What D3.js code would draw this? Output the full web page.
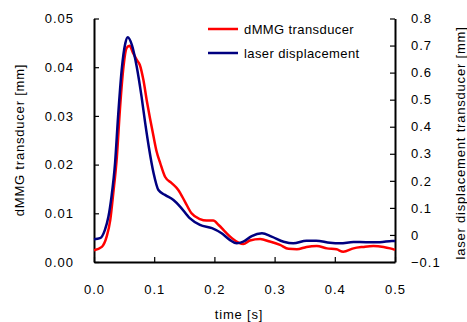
<!DOCTYPE html>
<html>
<head>
<meta charset="utf-8">
<script src="https://d3js.org/d3.v7.min.js"></script>
<style>
  body { margin: 0; background: #fff; }
  svg { display: block; font-family: "Liberation Sans", Arial, sans-serif; }
  .tick text { font-size: 13px; letter-spacing: 1px; fill: #000; }
  .title { font-size: 13px; letter-spacing: 0.8px; }
  .legend text { font-size: 13px; letter-spacing: 0.4px; }
</style>
</head>
<body>
<div id="chart"></div>
<script>
// time axis ticks, left (dMMG) ticks, right (laser) ticks
let timeTicks = [0, 0.1, 0.2, 0.3, 0.4, 0.5];
let leftTicks = [0, 0.01, 0.02, 0.03, 0.04, 0.05];
let rightTicks = [-0.1, 0, 0.1, 0.2, 0.3, 0.4, 0.5, 0.6, 0.7, 0.8];

// dMMG transducer [mm]
let dmmgT = [0.0, 0.013, 0.021, 0.027, 0.032, 0.038, 0.043, 0.049, 0.054, 0.059, 0.065, 0.071, 0.076, 0.082,
  0.088, 0.093, 0.099, 0.104, 0.110, 0.118, 0.129, 0.140, 0.151, 0.162, 0.176, 0.187, 0.198, 0.207,
  0.218, 0.229, 0.240, 0.248, 0.259, 0.276, 0.292, 0.309, 0.323, 0.337, 0.353, 0.370, 0.387, 0.403,
  0.414, 0.431, 0.447, 0.464, 0.481, 0.492, 0.5];
let dmmgV = [0.0024, 0.0031, 0.0052, 0.0086, 0.0141, 0.0216, 0.0312, 0.0401, 0.0439, 0.0444, 0.0429, 0.0415, 0.0405, 0.0374,
  0.0329, 0.0295, 0.0257, 0.0227, 0.0203, 0.0175, 0.0162, 0.0148, 0.0124, 0.0100, 0.0088, 0.0085, 0.0085, 0.0076,
  0.0062, 0.0049, 0.0040, 0.0037, 0.0044, 0.0047, 0.0042, 0.0035, 0.0027, 0.0026, 0.0031, 0.0033, 0.0028, 0.0026,
  0.0021, 0.0028, 0.0031, 0.0033, 0.0031, 0.0028, 0.0025];

// laser displacement transducer [mm]
let laserT = [0.0, 0.010, 0.018, 0.024, 0.029, 0.035, 0.040, 0.046, 0.052, 0.056, 0.063, 0.071, 0.079, 0.085,
  0.091, 0.099, 0.107, 0.118, 0.132, 0.143, 0.159, 0.176, 0.196, 0.212, 0.226, 0.237, 0.248, 0.262,
  0.279, 0.295, 0.315, 0.331, 0.353, 0.369, 0.392, 0.409, 0.431, 0.452, 0.475, 0.495, 0.5];
let laserV = [-0.016, -0.012, 0.018, 0.068, 0.141, 0.266, 0.437, 0.610, 0.708, 0.731, 0.702, 0.622, 0.511, 0.414,
  0.326, 0.228, 0.166, 0.148, 0.129, 0.105, 0.062, 0.037, 0.025, 0.006, -0.019, -0.031, -0.025, -0.004,
  0.006, -0.006, -0.025, -0.031, -0.021, -0.021, -0.029, -0.031, -0.026, -0.027, -0.027, -0.022, -0.022];

let W = 467, H = 322;
let svg = d3.select("#chart").append("svg")
  .attr("width", W).attr("height", H);

let x = d3.scaleLinear().domain([0, 0.5]).range([94, 395]);
let yL = d3.scaleLinear().domain([0, 0.05]).range([262, 18.5]);
let yR = d3.scaleLinear().domain([-0.1, 0.8]).range([262, 18.5]);

// axes (ticks point inward)
let gx = svg.append("g").attr("transform", "translate(0,262)")
  .call(d3.axisBottom(x).tickValues(timeTicks).tickFormat(d3.format(".1f"))
    .tickSizeInner(-5).tickSizeOuter(0).tickPadding(23));
let gl = svg.append("g").attr("transform", "translate(94,0)")
  .call(d3.axisLeft(yL).tickValues(leftTicks).tickFormat(d3.format(".2f"))
    .tickSizeInner(-5).tickSizeOuter(0).tickPadding(20));
let gr = svg.append("g").attr("transform", "translate(395,0)")
  .call(d3.axisRight(yR).tickValues(rightTicks).tickFormat(d => d === 0 ? "0" : d3.format(".1f")(d))
    .tickSizeInner(-5).tickSizeOuter(0).tickPadding(16));
[gx, gl, gr].forEach(g => {
  g.select(".domain").attr("stroke", "#000").attr("stroke-width", 2);
  g.selectAll(".tick line").attr("stroke", "#000").attr("stroke-width", 1.2);
  g.selectAll(".tick text").attr("font-family", null).attr("font-size", null);
});

// lines
let redLine = d3.line().x((d, i) => x(dmmgT[i])).y(d => yL(d)).curve(d3.curveMonotoneX);
let blueLine = d3.line().x((d, i) => x(laserT[i])).y(d => yR(d)).curve(d3.curveMonotoneX);

svg.append("path").datum(dmmgV).attr("d", redLine)
  .attr("fill", "none").attr("stroke", "#ff0000").attr("stroke-width", 2.5);
svg.append("path").datum(laserV).attr("d", blueLine)
  .attr("fill", "none").attr("stroke", "#000080").attr("stroke-width", 2.5);

// legend
let legend = [
  { name: "dMMG transducer", color: "#ff0000", y: 29 },
  { name: "laser displacement", color: "#000080", y: 53 }
];
let lg = svg.append("g").attr("class", "legend");
legend.forEach(l => {
  lg.append("line").attr("x1", 208).attr("x2", 238).attr("y1", l.y).attr("y2", l.y)
    .attr("stroke", l.color).attr("stroke-width", 2.5);
  lg.append("text").attr("x", 244).attr("y", l.y).attr("dy", "0.35em").text(l.name);
});

// axis titles
svg.append("text").attr("class", "title").attr("x", 239).attr("y", 319)
  .attr("text-anchor", "middle").text("time [s]");
svg.append("text").attr("class", "title")
  .attr("transform", "translate(24,140) rotate(-90)")
  .attr("text-anchor", "middle").text("dMMG transducer [mm]");
svg.append("text").attr("class", "title")
  .attr("transform", "translate(465,143) rotate(-90)")
  .attr("text-anchor", "middle").text("laser displacement transducer [mm]");
</script>
</body>
</html>
